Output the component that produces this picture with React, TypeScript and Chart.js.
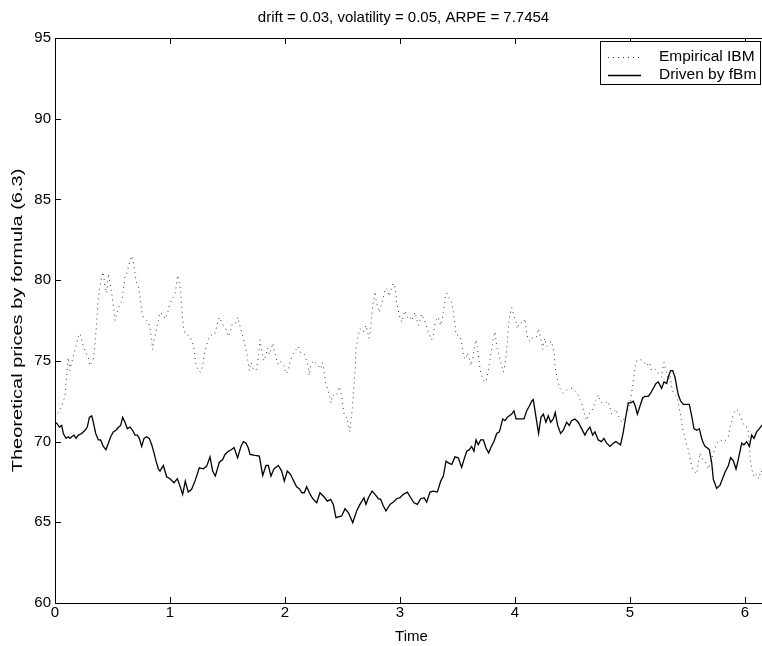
import React, { useEffect, useRef } from "react";
import { Chart, registerables } from "chart.js";

Chart.register(...registerables);

const titleText = "drift = 0.03, volatility = 0.05, ARPE = 7.7454";
const xAxisTitle = "Time";
const yAxisTitle = "Theoretical prices by formula (6.3)";
const xTicks = [0, 1, 2, 3, 4, 5, 6];
const yTicks = [60, 65, 70, 75, 80, 85, 90, 95];

const empTime = [
  0.0, 0.009, 0.029, 0.058, 0.087, 0.101, 0.116, 0.13, 0.145, 0.174, 0.203, 0.217, 0.232, 0.246, 0.27, 0.29,
  0.304, 0.333, 0.348, 0.362, 0.371, 0.386, 0.406, 0.42, 0.435, 0.449, 0.464, 0.478, 0.493, 0.507, 0.522,
  0.536, 0.551, 0.58, 0.594, 0.609, 0.623, 0.638, 0.652, 0.667, 0.681, 0.696, 0.71, 0.725, 0.739, 0.754,
  0.768, 0.797, 0.812, 0.826, 0.841, 0.849, 0.861, 0.878, 0.899, 0.913, 0.936, 0.957, 0.977, 0.994, 1.014,
  1.043, 1.052, 1.058, 1.067, 1.081, 1.093, 1.096, 1.101, 1.104, 1.11, 1.116, 1.13, 1.174, 1.197, 1.209,
  1.217, 1.226, 1.243, 1.267, 1.284, 1.304, 1.319, 1.342, 1.362, 1.386, 1.406, 1.42, 1.429, 1.455, 1.484,
  1.507, 1.528, 1.542, 1.565, 1.58, 1.588, 1.6, 1.614, 1.629, 1.643, 1.661, 1.672, 1.681, 1.69, 1.704,
  1.725, 1.748, 1.762, 1.771, 1.777, 1.783, 1.797, 1.817, 1.835, 1.849, 1.864, 1.878, 1.893, 1.907, 1.922,
  1.936, 1.957, 1.977, 1.991, 2.009, 2.029, 2.043, 2.067, 2.096, 2.116, 2.136, 2.168, 2.188, 2.203, 2.212,
  2.223, 2.252, 2.29, 2.31, 2.325, 2.333, 2.342, 2.351, 2.368, 2.386, 2.4, 2.414, 2.435, 2.455, 2.47,
  2.478, 2.493, 2.501, 2.507, 2.516, 2.53, 2.542, 2.551, 2.559, 2.565, 2.571, 2.58, 2.586, 2.591, 2.594,
  2.6, 2.603, 2.609, 2.612, 2.615, 2.617, 2.626, 2.638, 2.652, 2.681, 2.704, 2.719, 2.73, 2.739, 2.745,
  2.751, 2.757, 2.765, 2.774, 2.783, 2.791, 2.803, 2.821, 2.832, 2.846, 2.861, 2.875, 2.893, 2.904, 2.922,
  2.942, 2.959, 2.965, 2.971, 2.983, 2.994, 3.015, 3.029, 3.043, 3.064, 3.081, 3.101, 3.13, 3.145, 3.159,
  3.174, 3.188, 3.212, 3.232, 3.252, 3.275, 3.29, 3.299, 3.31, 3.333, 3.354, 3.368, 3.377, 3.388, 3.394,
  3.406, 3.426, 3.441, 3.455, 3.464, 3.472, 3.481, 3.487, 3.499, 3.522, 3.536, 3.545, 3.557, 3.574, 3.586,
  3.603, 3.617, 3.632, 3.646, 3.661, 3.672, 3.681, 3.687, 3.696, 3.71, 3.725, 3.748, 3.762, 3.774, 3.783,
  3.791, 3.803, 3.812, 3.826, 3.841, 3.855, 3.87, 3.884, 3.899, 3.913, 3.922, 3.928, 3.933, 3.936, 3.942,
  3.948, 3.957, 3.971, 3.991, 4.009, 4.02, 4.043, 4.067, 4.087, 4.101, 4.116, 4.136, 4.159, 4.188, 4.203,
  4.217, 4.232, 4.24, 4.252, 4.26, 4.275, 4.298, 4.319, 4.327, 4.339, 4.344, 4.35, 4.362, 4.373, 4.391,
  4.42, 4.449, 4.478, 4.501, 4.542, 4.565, 4.588, 4.603, 4.623, 4.637, 4.66, 4.681, 4.695, 4.71, 4.724,
  4.739, 4.753, 4.782, 4.811, 4.826, 4.84, 4.855, 4.878, 4.898, 4.927, 4.956, 4.971, 4.985, 5.0, 5.011,
  5.02, 5.029, 5.037, 5.046, 5.058, 5.081, 5.116, 5.145, 5.168, 5.188, 5.217, 5.232, 5.255, 5.275, 5.284,
  5.296, 5.313, 5.333, 5.348, 5.362, 5.377, 5.391, 5.406, 5.42, 5.429, 5.441, 5.449, 5.464, 5.478, 5.493,
  5.507, 5.522, 5.536, 5.551, 5.58, 5.609, 5.632, 5.652, 5.681, 5.725, 5.754, 5.783, 5.812, 5.835, 5.855,
  5.87, 5.884, 5.899, 5.922, 5.942, 5.962, 5.986, 6.0, 6.02, 6.032, 6.038, 6.043, 6.058, 6.08, 6.1, 6.12,
  6.14, 6.16, 6.18, 6.2,
];

const empPrice = [
  71.5, 71.6, 71.8, 72.2, 72.8, 74.0, 75.2, 74.4, 74.9, 75.7, 76.5, 76.7, 76.3, 75.9, 75.5, 75.2, 74.7, 75.1,
  76.1, 77.3, 78.4, 79.4, 80.2, 80.5, 79.6, 79.2, 80.4, 79.8, 79.2, 78.4, 77.5, 77.9, 78.3, 78.7, 79.4, 80.3,
  80.4, 80.8, 81.2, 81.5, 81.1, 80.4, 79.8, 79.6, 79.0, 78.1, 77.7, 77.5, 77.4, 77.0, 76.3, 75.7, 76.3, 76.8,
  77.5, 78.0, 77.9, 77.6, 77.9, 78.4, 78.8, 79.1, 79.5, 79.9, 80.3, 79.8, 79.4, 78.9, 78.5, 78.0, 77.6, 77.1,
  76.7, 76.5, 76.1, 75.7, 75.2, 74.8, 74.4, 74.3, 74.7, 75.6, 76.0, 76.5, 76.6, 76.6, 77.1, 77.5, 77.7, 77.3,
  77.0, 76.5, 76.9, 77.3, 77.3, 77.5, 77.7, 77.4, 77.0, 76.6, 76.2, 75.7, 75.3, 74.8, 74.4, 74.9, 74.5, 74.4,
  74.9, 75.4, 75.9, 76.3, 75.6, 75.0, 75.4, 75.8, 75.4, 75.7, 76.1, 75.6, 75.2, 74.8, 75.0, 74.8, 74.7, 74.2,
  74.4, 74.9, 75.4, 75.7, 75.9, 75.5, 75.4, 75.0, 74.5, 74.1, 74.8, 75.0, 74.7, 74.5, 74.9, 74.6, 74.2, 73.7,
  73.3, 72.9, 72.4, 72.9, 72.8, 73.0, 73.4, 73.3, 72.8, 72.4, 72.0, 71.6, 71.5, 71.5, 71.0, 70.8, 70.6, 71.2,
  71.7, 72.1, 72.6, 73.0, 73.5, 73.9, 74.4, 74.8, 75.3, 75.7, 76.1, 76.6, 77.0, 76.8, 77.2, 76.8, 76.4, 76.7,
  77.1, 77.6, 78.0, 78.5, 78.9, 79.3, 78.8, 78.4, 78.0, 78.3, 78.7, 79.1, 79.5, 79.4, 79.0, 79.4, 79.8, 79.5,
  79.1, 78.6, 78.2, 77.8, 77.4, 77.7, 78.1, 77.7, 77.8, 77.5, 78.0, 77.6, 77.2, 77.5, 77.9, 77.5, 77.1, 76.7,
  76.3, 76.6, 77.1, 77.5, 77.7, 77.2, 77.6, 78.1, 78.6, 79.0, 79.2, 78.9, 78.8, 78.4, 78.0, 77.5, 77.1, 76.6,
  76.6, 76.5, 76.1, 75.6, 75.2, 75.1, 75.5, 75.1, 74.7, 75.1, 75.8, 76.3, 75.9, 75.4, 75.0, 74.5, 74.1, 73.8,
  73.7, 74.2, 74.7, 75.1, 75.5, 76.0, 76.4, 76.8, 75.9, 75.5, 75.1, 74.7, 74.3, 74.8, 75.3, 75.7, 76.1, 76.5,
  77.0, 77.5, 77.9, 78.3, 77.8, 77.4, 77.0, 77.4, 77.3, 77.6, 76.7, 76.3, 76.2, 76.5, 76.5, 77.0, 76.6, 76.1,
  75.7, 76.2, 76.4, 75.9, 76.1, 76.2, 75.9, 75.5, 75.0, 74.6, 74.1, 73.7, 73.3, 73.0, 73.2, 73.3, 73.3, 73.0,
  72.6, 72.2, 71.7, 71.3, 71.7, 71.8, 72.1, 72.5, 72.6, 72.9, 72.5, 72.4, 72.4, 72.5, 72.1, 71.7, 71.8, 72.0,
  71.6, 71.2, 71.5, 71.7, 72.0, 72.4, 72.9, 73.3, 73.8, 74.2, 74.7, 75.0, 75.1, 75.0, 74.7, 74.9, 74.4, 74.5,
  74.4, 74.1, 74.0, 74.5, 74.9, 74.4, 73.8, 74.1, 73.4, 73.0, 72.9, 72.8, 72.4, 72.0, 71.6, 71.2, 70.6, 70.2,
  69.8, 69.5, 69.0, 68.5, 68.2, 68.0, 69.3, 68.9, 68.8, 68.3, 69.3, 69.9, 70.1, 70.0, 70.1, 70.3, 70.9, 71.2,
  71.7, 72.0, 71.9, 71.5, 71.1, 70.9, 70.9, 70.5, 69.7, 69.1, 68.3, 67.8, 68.0, 67.7, 68.2, 67.9, 67.5, 67.6,
  67.5,
];

const fbmTime = [
  0.0, 0.014, 0.038, 0.058, 0.072, 0.096, 0.116, 0.13, 0.145, 0.165, 0.183, 0.203, 0.232, 0.261, 0.281, 0.299,
  0.319, 0.333, 0.354, 0.377, 0.397, 0.42, 0.443, 0.464, 0.484, 0.507, 0.53, 0.554, 0.571, 0.588, 0.609,
  0.629, 0.652, 0.675, 0.696, 0.716, 0.733, 0.754, 0.774, 0.797, 0.82, 0.841, 0.861, 0.878, 0.899, 0.913,
  0.942, 0.971, 1.0, 1.035, 1.064, 1.087, 1.11, 1.133, 1.159, 1.188, 1.217, 1.255, 1.29, 1.319, 1.348,
  1.371, 1.394, 1.429, 1.458, 1.478, 1.507, 1.536, 1.557, 1.588, 1.617, 1.638, 1.661, 1.681, 1.696, 1.739,
  1.777, 1.806, 1.835, 1.855, 1.878, 1.904, 1.942, 1.971, 1.994, 2.02, 2.049, 2.072, 2.101, 2.124, 2.148,
  2.168, 2.188, 2.212, 2.241, 2.276, 2.304, 2.339, 2.368, 2.397, 2.42, 2.443, 2.472, 2.493, 2.522, 2.551,
  2.589, 2.623, 2.652, 2.687, 2.704, 2.725, 2.757, 2.783, 2.812, 2.832, 2.855, 2.878, 2.913, 2.942, 2.971,
  3.0, 3.029, 3.064, 3.093, 3.122, 3.151, 3.18, 3.209, 3.232, 3.261, 3.29, 3.325, 3.354, 3.377, 3.4, 3.42,
  3.45, 3.478, 3.507, 3.536, 3.557, 3.58, 3.603, 3.623, 3.643, 3.661, 3.681, 3.701, 3.725, 3.748, 3.771,
  3.794, 3.817, 3.841, 3.864, 3.875, 3.893, 3.913, 3.933, 3.951, 3.971, 3.991, 4.009, 4.029, 4.052, 4.078,
  4.101, 4.125, 4.145, 4.159, 4.174, 4.205, 4.226, 4.246, 4.269, 4.289, 4.31, 4.333, 4.35, 4.371, 4.397,
  4.42, 4.449, 4.472, 4.492, 4.521, 4.55, 4.579, 4.608, 4.629, 4.652, 4.675, 4.695, 4.724, 4.753, 4.773,
  4.797, 4.826, 4.855, 4.878, 4.898, 4.918, 4.942, 4.965, 4.985, 5.006, 5.029, 5.046, 5.064, 5.087, 5.11,
  5.13, 5.159, 5.179, 5.203, 5.226, 5.246, 5.275, 5.296, 5.319, 5.333, 5.354, 5.371, 5.391, 5.406, 5.42,
  5.441, 5.464, 5.493, 5.516, 5.536, 5.556, 5.58, 5.603, 5.623, 5.638, 5.652, 5.673, 5.69, 5.71, 5.725,
  5.754, 5.783, 5.826, 5.855, 5.875, 5.899, 5.922, 5.942, 5.971, 5.991, 6.014, 6.038, 6.058, 6.078, 6.101,
  6.125, 6.145, 6.17, 6.2,
];

const fbmPrice = [
  71.1, 71.15, 70.9, 71.0, 70.5, 70.2, 70.3, 70.2, 70.3, 70.4, 70.2, 70.4, 70.5, 70.7, 70.9, 71.5, 71.6, 71.2,
  70.5, 70.1, 70.1, 69.7, 69.5, 69.9, 70.3, 70.6, 70.7, 70.9, 71.0, 71.5, 71.2, 70.8, 70.9, 70.7, 70.4, 70.4,
  70.2, 69.7, 70.2, 70.3, 70.2, 69.8, 69.3, 68.8, 68.3, 68.17, 68.52, 67.82, 67.7, 67.45, 67.7, 67.24, 66.73,
  67.55, 66.87, 67.04, 67.55, 68.37, 68.31, 68.48, 69.05, 68.17, 67.86, 68.72, 68.89, 69.2, 69.4, 69.51,
  69.63, 68.99, 69.7, 70.0, 69.9, 69.6, 69.2, 69.14, 69.1, 67.9, 68.52, 68.52, 67.86, 68.31, 68.52, 68.17,
  67.55, 68.17, 67.96, 67.61, 67.2, 67.08, 66.83, 66.83, 67.2, 66.83, 66.46, 66.21, 66.83, 66.58, 66.31,
  66.42, 66.11, 65.29, 65.35, 65.39, 65.84, 65.6, 64.98, 65.7, 66.11, 66.52, 66.11, 66.52, 66.93, 66.73,
  66.46, 66.42, 66.01, 65.7, 66.11, 66.25, 66.46, 66.52, 66.73, 66.87, 66.52, 66.21, 66.11, 66.46, 66.52,
  66.25, 66.87, 66.93, 66.87, 67.55, 67.86, 68.79, 68.68, 68.58, 69.05, 68.99, 68.4, 68.9, 69.4, 69.5, 69.7,
  69.4, 70.1, 69.8, 70.1, 70.1, 69.6, 69.3, 69.7, 70.0, 70.5, 70.6, 70.9, 71.4, 71.3, 71.5, 71.6, 71.7, 71.9,
  71.4, 71.4, 71.4, 71.4, 71.9, 72.2, 72.5, 72.6, 71.9, 70.5, 71.5, 71.7, 71.2, 71.6, 71.2, 71.4, 71.8, 71.0,
  70.5, 70.7, 71.2, 71.0, 71.3, 71.4, 71.2, 70.8, 70.4, 70.7, 70.9, 70.4, 70.6, 70.1, 70.0, 70.2, 69.9, 69.7,
  69.9, 70.0, 69.9, 69.8, 70.6, 71.6, 72.4, 72.4, 72.5, 72.2, 71.7, 72.2, 72.7, 72.8, 72.8, 73.0, 73.3, 73.6,
  73.7, 73.3, 73.7, 73.6, 74.0, 74.4, 74.4, 74.0, 73.4, 72.9, 72.5, 72.3, 72.3, 72.3, 71.6, 70.8, 70.7, 70.8,
  70.2, 69.9, 69.7, 69.6, 69.5, 68.7, 67.65, 67.1, 67.3, 68.1, 68.5, 69.0, 68.8, 68.3, 68.9, 69.9, 69.8,
  70.0, 69.7, 70.4, 70.2, 70.6, 70.8, 71.0, 70.8, 71.0,
];

const FONT = "'Liberation Sans', Arial, Helvetica, sans-serif";

const framePlugin = {
  id: "matlabFrame",
  afterDatasetsDraw(chart: any) {
    const { ctx, chartArea, scales } = chart;
    const { left, right, top, bottom } = chartArea;
    const xs = scales.x;
    const ys = scales.y;
    ctx.save();
    ctx.strokeStyle = "#000";
    ctx.lineWidth = 1;
    const tl = 6;
    ctx.beginPath();
    xs.ticks.forEach((t: any) => {
      const px = Math.round(xs.getPixelForValue(t.value)) + 0.5;
      ctx.moveTo(px, bottom);
      ctx.lineTo(px, bottom - tl);
      ctx.moveTo(px, top);
      ctx.lineTo(px, top + tl);
    });
    ys.ticks.forEach((t: any) => {
      const py = Math.round(ys.getPixelForValue(t.value)) + 0.5;
      ctx.moveTo(left, py);
      ctx.lineTo(left + tl, py);
      ctx.moveTo(right, py);
      ctx.lineTo(right - tl, py);
    });
    ctx.stroke();
    ctx.strokeRect(Math.round(left) + 0.5, Math.round(top) + 0.5, Math.round(right - left), Math.round(bottom - top));

    // title
    ctx.fillStyle = "#000";
    ctx.font = `15px ${FONT}`;
    ctx.textAlign = "center";
    ctx.textBaseline = "middle";
    ctx.fillText(titleText, (left + right) / 2 - 8, 18);

    // y axis title (stretched along its length like the reference)
    ctx.save();
    ctx.translate(18, (top + bottom) / 2);
    ctx.rotate(-Math.PI / 2);
    ctx.scale(1.38, 1);
    ctx.font = `14.5px ${FONT}`;
    ctx.textAlign = "center";
    ctx.textBaseline = "middle";
    ctx.fillText(yAxisTitle, 0, 0);
    ctx.restore();

    // legend box
    const bx = 600, by = 41, bw = 160, bh = 43;
    ctx.fillStyle = "#fff";
    ctx.fillRect(bx, by, bw, bh);
    ctx.strokeRect(bx + 0.5, by + 0.5, bw, bh);
    const ds = chart.data.datasets;
    const rows = [57, 75];
    ctx.font = `15.5px ${FONT}`;
    ds.forEach((d: any, i: number) => {
      const yy = rows[i] + 0.5;
      ctx.beginPath();
      ctx.setLineDash(d.borderDash || []);
      ctx.lineWidth = d.borderWidth;
      ctx.strokeStyle = d.borderColor;
      ctx.moveTo(608, yy);
      ctx.lineTo(641, yy);
      ctx.stroke();
      ctx.setLineDash([]);
      ctx.fillStyle = "#000";
      ctx.textAlign = "left";
      ctx.fillText(d.label, 659, rows[i]);
    });
    ctx.restore();
  },
};

export default function App() {
  const ref = useRef<HTMLCanvasElement>(null);
  useEffect(() => {
    if (!ref.current) return;
    const chart = new Chart(ref.current, {
      type: "line",
      data: {
        datasets: [
          {
            label: "Empirical IBM",
            data: empTime.map((t, i) => ({ x: t, y: empPrice[i] })),
            borderColor: "#333",
            borderWidth: 1,
            borderDash: [1, 4],
            pointRadius: 0,
            tension: 0,
            fill: false,
          },
          {
            label: "Driven by fBm",
            data: fbmTime.map((t, i) => ({ x: t, y: fbmPrice[i] })),
            borderColor: "#000",
            borderWidth: 1.3,
            pointRadius: 0,
            tension: 0,
            fill: false,
          },
        ],
      },
      options: {
        animation: false,
        responsive: false,
        maintainAspectRatio: false,
        layout: { padding: { top: 38, right: 7, left: 0, bottom: 0 } },
        plugins: { legend: { display: false }, tooltip: { enabled: false }, title: { display: false } },
        scales: {
          x: {
            type: "linear",
            min: 0,
            max: 6.2,
            afterBuildTicks: (s: any) => {
              s.ticks = xTicks.map((v) => ({ value: v }));
            },
            afterFit: (s: any) => {
              s.height = 43;
            },
            grid: { display: false, drawTicks: false },
            border: { display: false },
            ticks: { color: "#000", font: { family: FONT, size: 15 }, padding: 1, maxRotation: 0, autoSkip: false },
            title: { display: true, text: xAxisTitle, color: "#000", font: { family: FONT, size: 15 }, padding: { top: 0, bottom: 0 } },
          },
          y: {
            type: "linear",
            min: 60,
            max: 95,
            afterBuildTicks: (s: any) => {
              s.ticks = yTicks.map((v) => ({ value: v }));
            },
            afterFit: (s: any) => {
              s.width = 55;
            },
            grid: { display: false, drawTicks: false },
            border: { display: false },
            ticks: { color: "#000", font: { family: FONT, size: 15 }, padding: 4, autoSkip: false },
            title: { display: false, text: yAxisTitle },
          },
        },
      },
      plugins: [framePlugin],
    } as any);
    return () => chart.destroy();
  }, []);
  return (
    <div style={{ position: "fixed", left: 0, top: 0, width: 762, height: 646, overflow: "hidden", background: "#fff" }}>
      <canvas ref={ref} width={775} height={646} style={{ width: 775, height: 646, display: "block" }} />
    </div>
  );
}
